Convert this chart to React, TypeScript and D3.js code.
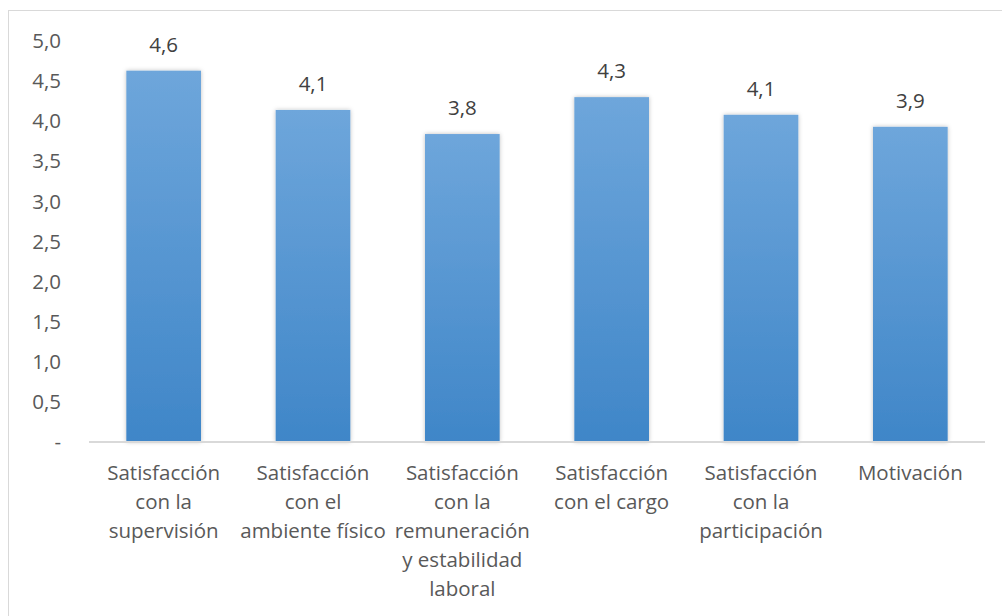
import React from "react";
import * as d3 from "d3";

const categories: string[][] = [
  ["Satisfacción", "con la", "supervisión"],
  ["Satisfacción", "con el", "ambiente físico"],
  ["Satisfacción", "con la", "remuneración", "y estabilidad", "laboral"],
  ["Satisfacción", "con el cargo"],
  ["Satisfacción", "con la", "participación"],
  ["Motivación"],
];
const values: number[] = [4.63, 4.14, 3.84, 4.3, 4.08, 3.93];
const yTicks: number[] = [0, 0.5, 1, 1.5, 2, 2.5, 3, 3.5, 4, 4.5, 5];

const W = 1002;
const H = 616;
const fmt = (v: number) => (v === 0 ? "-" : v.toFixed(1).replace(".", ","));
const fontFamily = "'Open Sans', sans-serif";
const fs = 20.5;

export default function App() {
  const x = d3.scaleBand<number>().domain(d3.range(values.length)).range([89, 985]).paddingInner(0.5).paddingOuter(0.25);
  const y = d3.scaleLinear().domain([0, 5]).range([442, 41]);
  return (
    <svg width={W} height={H} style={{ position: "absolute", left: 0, top: 0 }}>
      <defs>
        <linearGradient id="barGrad" x1="0" y1="0" x2="0" y2="1">
          <stop offset="0" stopColor="#6ea6db" />
          <stop offset="1" stopColor="#3f86c8" />
        </linearGradient>
        <filter id="shadow" x="-20%" y="-20%" width="140%" height="140%">
          <feDropShadow dx="0" dy="0" stdDeviation="2" floodColor="#000" floodOpacity="0.25" />
        </filter>
      </defs>
      <rect x={0} y={0} width={W} height={H} fill="#fff" />
      <rect x={8.5} y={10.5} width={W + 10} height={H + 10} fill="#fff" stroke="#d9d9d9" strokeWidth={1} />
      {yTicks.map((t) => (
        <text key={t} x={61} y={y(t)} dy="0.35em" textAnchor="end" fontFamily={fontFamily} fontSize={fs} fill="#595959">
          {fmt(t)}
        </text>
      ))}
      {values.map((v, i) => (
        <rect key={i} x={x(i)} y={y(v)} width={x.bandwidth()} height={y(0) - y(v)} fill="url(#barGrad)" filter="url(#shadow)" />
      ))}
      <line x1={89} x2={985} y1={442} y2={442} stroke="#d9d9d9" strokeWidth={2} />
      {values.map((v, i) => (
        <text key={i} x={(x(i) as number) + x.bandwidth() / 2} y={y(v) - 19} textAnchor="middle" fontFamily={fontFamily} fontSize={fs} fill="#404040">
          {fmt(v)}
        </text>
      ))}
      {categories.map((lines, i) => (
        <text key={i} textAnchor="middle" fontFamily={fontFamily} fontSize={fs} fill="#595959">
          {lines.map((l, j) => (
            <tspan key={j} x={(x(i) as number) + x.bandwidth() / 2} y={480 + j * 29}>
              {l}
            </tspan>
          ))}
        </text>
      ))}
    </svg>
  );
}
